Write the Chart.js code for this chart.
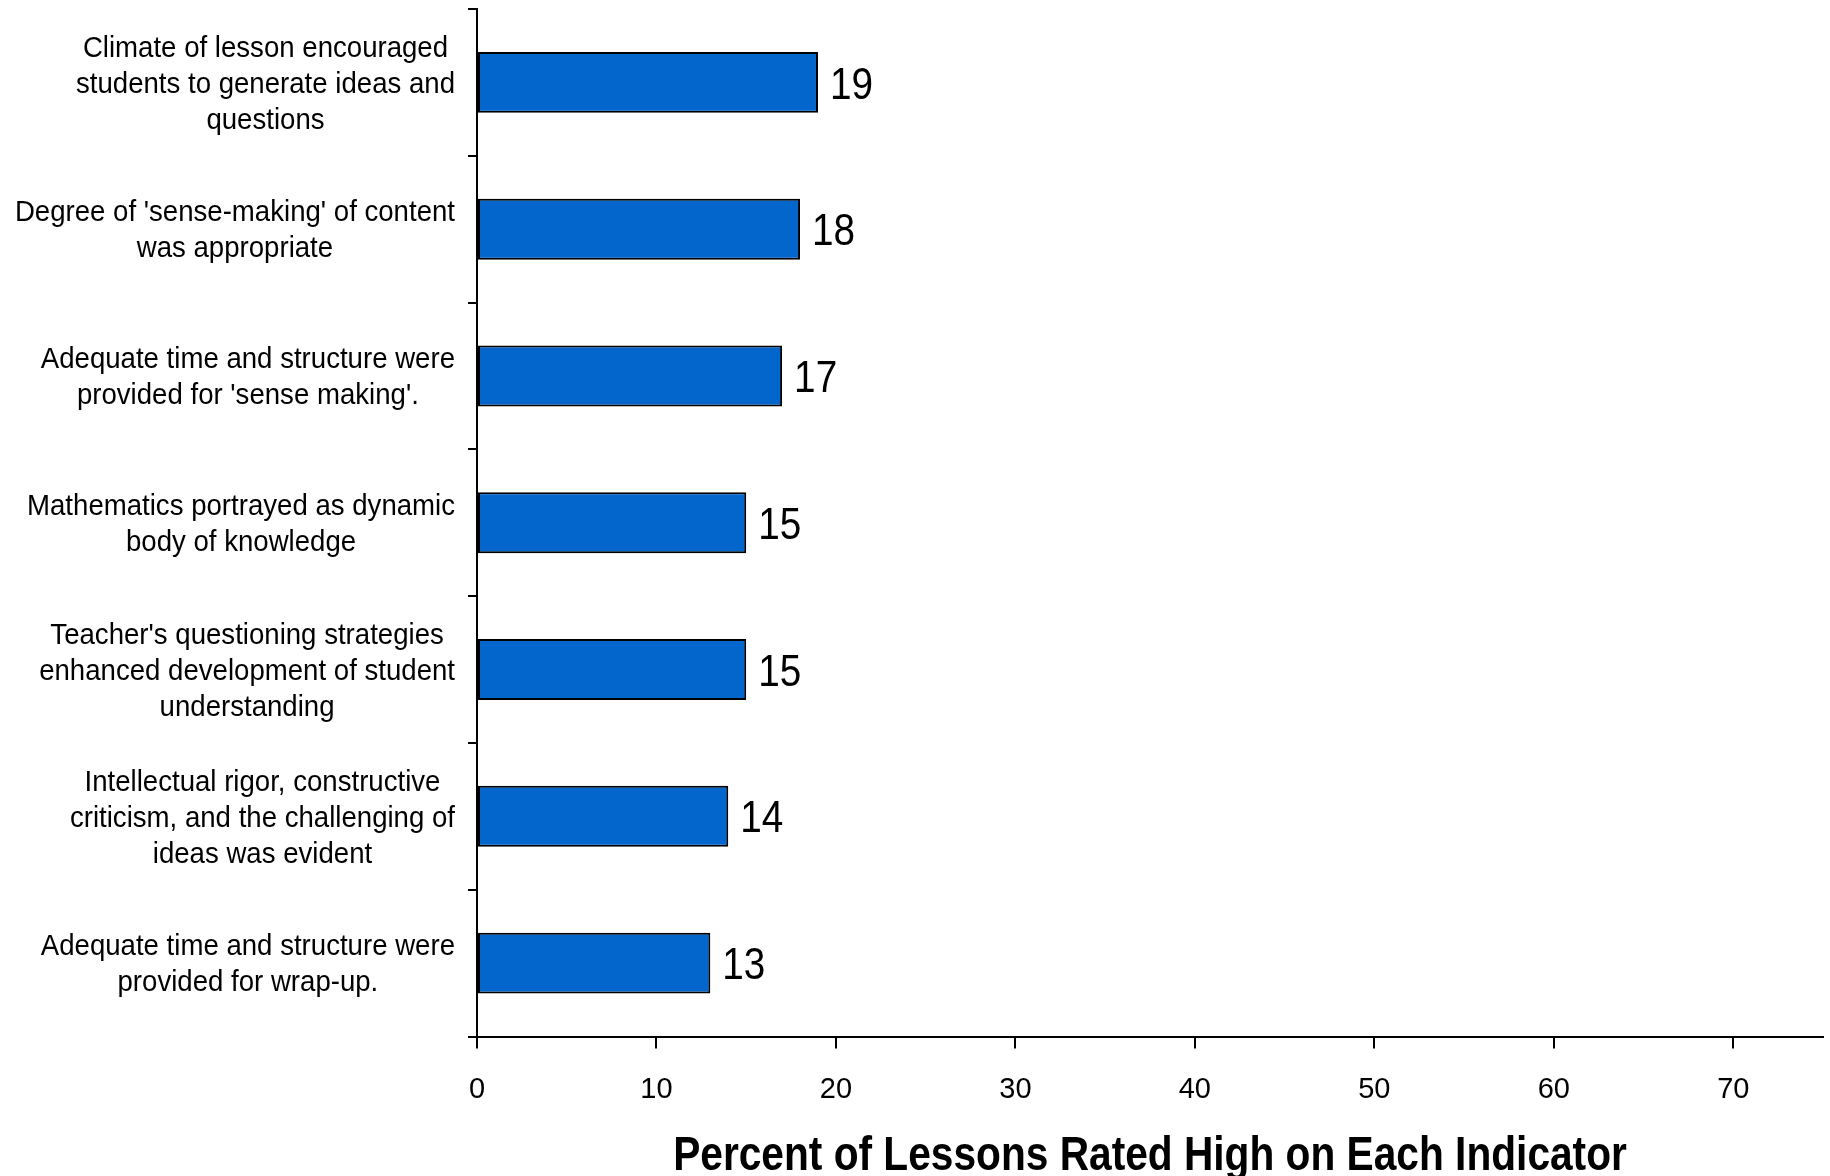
<!DOCTYPE html>
<html>
<head>
<meta charset="utf-8">
<script src="https://cdn.jsdelivr.net/npm/chart.js@4.4.1/dist/chart.umd.min.js"></script>
<style>
  html, body { margin: 0; padding: 0; background: #fff; }
  #wrap { width: 1830px; height: 1176px; }
</style>
</head>
<body>
<div id="wrap"><canvas id="chart" width="1830" height="1176"></canvas></div>
<script>
// data
const categories = [
  ["Climate of lesson encouraged", "students to generate ideas and", "questions"],
  ["Degree of 'sense-making' of content", "was appropriate"],
  ["Adequate time and structure were", "provided for 'sense making'."],
  ["Mathematics portrayed as dynamic", "body of knowledge"],
  ["Teacher's questioning strategies", "enhanced development of student", "understanding"],
  ["Intellectual rigor, constructive", "criticism, and the challenging of", "ideas was evident"],
  ["Adequate time and structure were", "provided for wrap-up."],
];
const percentHigh = [19, 18, 17, 15, 15, 14, 13];
const xTicks = [0, 10, 20, 30, 40, 50, 60, 70];
const xMax = 75;
const axisTitle = "Percent of Lessons Rated High on Each Indicator";

const FONT = '"Liberation Sans", Arial, sans-serif';

// draw text squeezed horizontally (the original uses a condensed face)
function squeezedText(ctx, text, x, y, sx) {
  ctx.save();
  ctx.translate(x, y);
  ctx.scale(sx, 1);
  ctx.fillText(text, 0, 0);
  ctx.restore();
}

// category labels: each block sits against the axis, its lines centred within it
const categoryLabels = {
  id: "categoryLabels",
  afterDraw(chart) {
    const y = chart.scales.y;
    const ctx = chart.ctx;
    const sx = 0.92;
    ctx.save();
    ctx.font = "30px " + FONT;
    ctx.fillStyle = "#000";
    ctx.textAlign = "center";
    ctx.textBaseline = "middle";
    const right = y.right - 22;
    categories.forEach((lines, i) => {
      const w = Math.max(...lines.map((l) => ctx.measureText(l).width)) * sx;
      const cx = right - w / 2;
      const cy = y.getPixelForValue(i) + 2;
      lines.forEach((l, k) => {
        squeezedText(ctx, l, cx, cy + (k - (lines.length - 1) / 2) * 36, sx);
      });
    });
    ctx.restore();
  },
};

// value at the end of each bar, plus the x-axis title
const valueLabels = {
  id: "valueLabels",
  afterDatasetsDraw(chart) {
    const ctx = chart.ctx;
    const meta = chart.getDatasetMeta(0);
    ctx.save();
    ctx.font = "44px " + FONT;
    ctx.fillStyle = "#000";
    ctx.textAlign = "left";
    ctx.textBaseline = "middle";
    meta.data.forEach((bar, i) => {
      squeezedText(ctx, String(percentHigh[i]), bar.x + 12, bar.y + 4, 0.88);
    });

    const x = chart.scales.x;
    ctx.font = "bold 49px " + FONT;
    ctx.textAlign = "center";
    ctx.textBaseline = "alphabetic";
    squeezedText(ctx, axisTitle, (x.left + x.right) / 2, x.bottom - 6, 0.83);
    ctx.restore();
  },
};

new Chart(document.getElementById("chart"), {
  type: "bar",
  data: {
    labels: categories.map((l) => l.join(" ")),
    datasets: [
      {
        data: percentHigh,
        backgroundColor: "#0366CC",
        borderColor: "#000",
        borderWidth: 2,
        borderSkipped: false,
        barPercentage: 0.415,
        categoryPercentage: 1,
      },
    ],
  },
  options: {
    indexAxis: "y",
    responsive: false,
    animation: false,
    layout: { padding: { top: 9, right: 7, left: 0, bottom: 0 } },
    plugins: { legend: { display: false }, tooltip: { enabled: false } },
    scales: {
      x: {
        min: 0,
        max: xMax,
        afterBuildTicks: (s) => {
          s.ticks = xTicks.map((v) => ({ value: v }));
        },
        afterFit: (s) => {
          s.height = 139.5;
        },
        border: { color: "#000", width: 2 },
        grid: { drawOnChartArea: false, color: "#000", lineWidth: 2, tickLength: 12 },
        ticks: {
          color: "#000",
          font: { family: FONT, size: 29 },
          padding: 24,
          autoSkip: false,
          maxRotation: 0,
        },
      },
      y: {
        afterFit: (s) => {
          s.width = 477;
        },
        border: { color: "#000", width: 2 },
        grid: { drawOnChartArea: false, color: "#000", lineWidth: 2, tickLength: 9 },
        ticks: { display: false },
      },
    },
  },
  plugins: [categoryLabels, valueLabels],
});
</script>
</body>
</html>
